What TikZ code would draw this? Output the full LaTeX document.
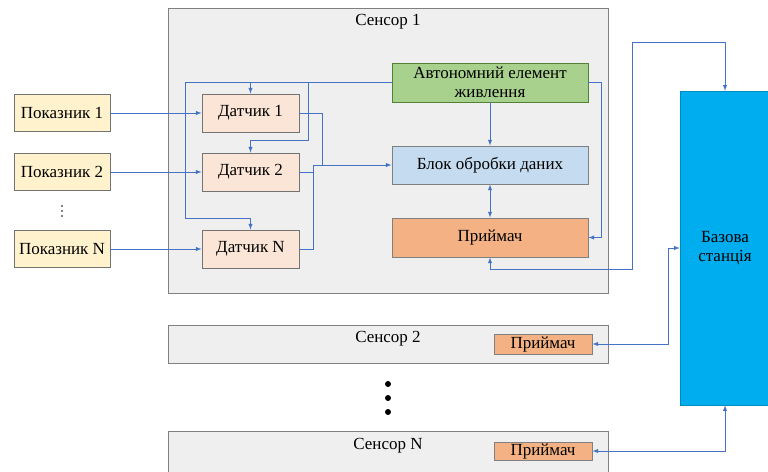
\documentclass[tikz,border=0pt]{standalone}
\usepackage{fontspec}
\setmainfont{Liberation Serif}
\usepackage{tikz}
\usetikzlibrary{calc, positioning}

\definecolor{linkblue}{HTML}{4472C4}
\definecolor{sensfill}{HTML}{EFEFEF}
\definecolor{ptfill}{HTML}{FFF2CC}
\definecolor{dtfill}{HTML}{FBE5D6}
\definecolor{pwfill}{HTML}{A9D18E}
\definecolor{pwline}{HTML}{548235}
\definecolor{blkfill}{HTML}{C5DCF0}
\definecolor{rxfill}{HTML}{F4B183}
\definecolor{bsfill}{HTML}{00AEEF}

\begin{document}
\begin{tikzpicture}[x=0.03cm, y=-0.03cm, >=latex,
  font=\fontsize{14.5}{16}\selectfont,
  sensorbox/.style={draw=gray, fill=sensfill, line width=0.8pt, inner sep=0pt},
  ptbox/.style={draw=gray!90!black, fill=ptfill, line width=0.8pt, minimum width=2.88cm, minimum height=1.11cm, inner sep=1pt},
  dtbox/.style={draw=gray!90!black, fill=dtfill, line width=0.8pt, minimum width=2.91cm, minimum height=1.14cm, inner sep=1pt},
  rxbox/.style={draw=gray, fill=rxfill, line width=0.8pt},
  link/.style={draw=linkblue, line width=0.7pt}]
  \useasboundingbox (0,0) rectangle (768,471);
  \node [sensorbox, minimum width=13.2cm, minimum height=8.55cm] (s1) at (388,150.5) {};
  \node (s1lbl) at (388,22) {Сенсор 1};
  \node [sensorbox, minimum width=13.2cm, minimum height=1.14cm] (s2) at (388,344) {};
  \node (s2lbl) at (388,339) {Сенсор 2};
  \node [sensorbox, minimum width=13.2cm, minimum height=1.47cm] (sN) at (388,455.5) {};
  \node (sNlbl) at (388,446) {Сенсор N};
  \node [ptbox] (p1) at (62,113) {Показник 1};
  \node [ptbox] (p2) at (62,172) {Показник 2};
  \node [ptbox] (pN) at (62,249) {Показник N};
  \fill (62,206) circle [radius=0.9];
  \fill (62,211) circle [radius=0.9];
  \fill (62,216) circle [radius=0.9];
  \node [dtbox] (d1) at (250.5,113) {Датчик 1};
  \node [dtbox] (d2) at (250.5,172) {Датчик 2};
  \node [dtbox] (dN) at (250.5,249) {Датчик N};
  \node [draw=pwline, fill=pwfill, line width=0.8pt, minimum width=5.88cm, minimum height=1.17cm,
    align=center, inner sep=1pt] (pw) at (490,82.5) {Автономний елемент\\живлення};
  \node [draw=gray, fill=blkfill, line width=0.8pt, minimum width=5.88cm, minimum height=1.14cm] (blk) at (490,165) {Блок обробки даних};
  \node [rxbox, minimum width=5.88cm, minimum height=1.17cm] (rx) at (490,237.5) {Приймач};
  \node [rxbox, minimum width=2.94cm, minimum height=0.6cm, inner sep=0pt] (rx2) at (543,344) {Приймач};
  \node [rxbox, minimum width=2.94cm, minimum height=0.54cm, inner sep=0pt] (rxN) at (543,451) {Приймач};
  \node [draw=bsfill!80!black, fill=bsfill, minimum width=2.7cm, minimum height=9.42cm, align=center] (bs) at (725,248) {Базова\\станція};
  \fill (388,384) circle [radius=3];
  \fill (388,398) circle [radius=3];
  \fill (388,412) circle [radius=3];
  \draw [link, ->] (p1) -- (d1);
  \draw [link, ->] (p2) -- (d2);
  \draw [link, ->] (pN) -- (dN);
  \coordinate (t2) at (308,140);
  \coordinate (j1) at (322,165);
  \coordinate (j2) at (313,165);
  \coordinate (rr) at (601,0);
  \coordinate (k1) at (632,269);
  \coordinate (k2) at (632,42);
  \coordinate (m1) at (668,0);
  \draw [link, ->] (pw.west) -| (185,218) -| (dN.north);
  \draw [link, ->] (d1.north |- pw.west) -- (d1.north);
  \draw [link, ->] (t2 |- pw.west) -- (t2) -| (d2.north);
  \draw [link, ->] (d1.east) -| (j1) -- (blk.west);
  \draw [link] (d2.east) -| (j2) -- (j1);
  \draw [link] (dN.east) -| (j2);
  \draw [link, ->] (pw.south) -- (blk.north);
  \draw [link, <->] (blk.south) -- (rx.north);
  \draw [link, ->] (pw.east) -| (rr |- rx.east) -- (rx.east);
  \draw [link, <->] (rx.south) |- (k1) -- (k2) -| (bs.north);
  \draw [link, <->] (rx2.east) -| (m1 |- bs.west) -- (bs.west);
  \draw [link, <->] (rxN.east) -| (bs.south);
\end{tikzpicture}
\end{document}
